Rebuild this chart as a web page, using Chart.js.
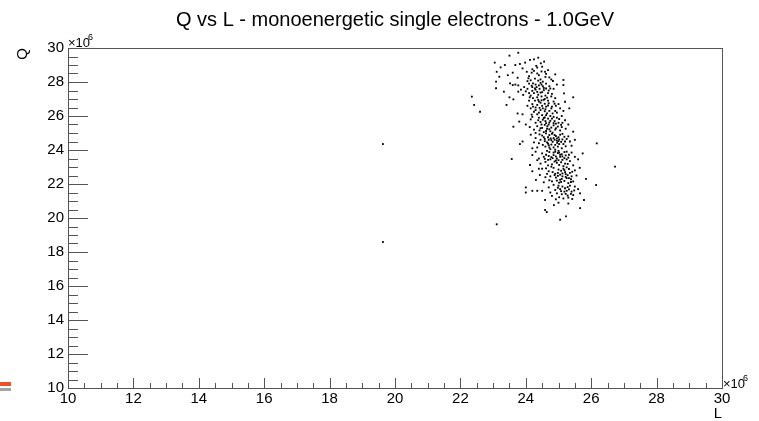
<!DOCTYPE html>
<html>
<head>
<meta charset="utf-8">
<script src="https://cdn.jsdelivr.net/npm/chart.js@4.4.1/dist/chart.umd.min.js"></script>
<style>
  html, body { margin: 0; background: #fff; }
  #wrap { position: relative; width: 759px; height: 421px; }
  .mark { position: absolute; left: 0; width: 11px; }
</style>
</head>
<body>
<div id="wrap">
  <canvas id="graph" width="759" height="421"></canvas>
  <div class="mark" style="top:382px;height:4px;background:#e8532b"></div>
  <div class="mark" style="top:388px;height:3px;background:#a3a3a3"></div>
</div>
<script>
/* Q vs L scatter — valeurs en unités de 10^6 */

const titre = 'Q vs L - monoenergetic single electrons - 1.0GeV';
const xTicks = [10, 12, 14, 16, 18, 20, 22, 24, 26, 28, 30];
const yTicks = [10, 12, 14, 16, 18, 20, 22, 24, 26, 28, 30];
const subDiv = 4;

// points isolés
const isoles = [
    [19.63, 24.35], [19.63, 18.59], [23.11, 19.63], [26.73, 23.02], [26.17, 24.39],
    [22.35, 27.14], [22.42, 26.65], [22.60, 26.25]
];

// Q entre 28 et 30
const hautQ = [
    [23.77, 29.72], [23.50, 29.55], [24.38, 29.43], [24.25, 29.33], [24.56, 29.20], [24.13, 29.30],
    [23.05, 29.14], [23.98, 29.14], [23.36, 29.00], [23.68, 29.00], [23.82, 29.06], [24.46, 29.10],
    [23.23, 28.86], [23.11, 28.60], [23.19, 28.31], [24.03, 28.60], [24.59, 28.60], [24.72, 28.27],
    [24.83, 28.06], [24.78, 28.15], [25.15, 28.12], [24.20, 28.75], [24.35, 28.50], [24.10, 28.35],
    [24.28, 28.20], [24.40, 28.40], [24.50, 28.90], [23.60, 28.55], [23.90, 28.80], [24.15, 28.10],
    [24.45, 28.15], [24.60, 28.30], [24.25, 28.65], [23.45, 28.40], [24.05, 28.05], [24.90, 28.45],
    [24.35, 28.85], [23.75, 28.25], [24.52, 28.02], [24.68, 28.70]
];

// Q entre 26 et 28
const milieuHautQ = [
    [23.09, 28.02], [23.09, 27.63], [23.52, 27.92], [23.60, 27.82], [23.68, 27.85], [23.77, 27.80],
    [23.33, 27.43], [23.50, 27.10], [23.77, 27.43], [23.92, 27.24], [25.15, 27.82], [25.17, 27.33],
    [25.45, 27.10], [24.10, 27.90], [24.20, 27.70], [24.30, 27.55], [24.40, 27.80], [24.50, 27.40],
    [24.55, 27.65], [24.60, 27.20], [24.70, 27.50], [24.80, 27.30], [24.90, 27.05], [24.00, 27.45],
    [24.15, 27.20], [24.25, 27.35], [24.35, 27.10], [24.45, 27.95], [24.62, 27.90], [24.05, 27.60],
    [24.38, 27.25], [24.48, 27.15], [24.72, 27.75], [24.22, 27.05], [24.85, 27.60], [24.95, 27.85],
    [24.58, 27.00], [24.30, 27.85], [24.10, 27.35], [23.95, 27.70], [24.68, 27.35], [24.42, 27.60],
    [24.20, 27.48], [24.78, 27.15], [24.52, 27.75], [23.85, 27.55], [24.33, 27.70], [24.65, 27.08],
    [24.12, 27.10],
    [23.41, 26.65], [23.62, 26.98], [25.20, 26.84], [25.33, 26.45], [23.75, 26.15], [23.90, 26.10],
    [24.10, 26.90], [24.20, 26.70], [24.30, 26.50], [24.40, 26.85], [24.50, 26.60], [24.60, 26.40],
    [24.70, 26.75], [24.80, 26.55], [24.90, 26.30], [25.00, 26.70], [24.25, 26.25], [24.35, 26.10],
    [24.45, 26.35], [24.55, 26.95], [24.65, 26.15], [24.75, 26.00], [24.15, 26.45], [24.05, 26.60],
    [24.85, 26.85], [24.95, 26.20], [25.05, 26.45], [24.40, 26.20], [24.58, 26.72], [24.28, 26.90],
    [24.72, 26.30], [24.50, 26.05], [24.35, 26.65], [24.62, 26.55], [24.45, 26.78], [24.82, 26.15],
    [24.18, 26.08], [25.10, 26.00], [24.68, 26.90], [24.92, 26.60], [24.52, 26.45], [24.30, 26.35],
    [24.78, 26.45], [24.22, 26.55], [25.15, 26.30]
];

// Q entre 24 et 26
const milieuQ = [
    [23.62, 25.37], [23.80, 25.67], [25.45, 25.08], [24.00, 25.50], [24.15, 25.80], [24.30, 25.60],
    [24.40, 25.90], [24.50, 25.30], [24.60, 25.70], [24.70, 25.50], [24.80, 25.85], [24.90, 25.20],
    [25.00, 25.60], [25.10, 25.35], [25.20, 25.75], [24.25, 25.20], [24.35, 25.40], [24.45, 25.65],
    [24.55, 25.05], [24.65, 25.25], [24.75, 25.10], [24.85, 25.45], [24.95, 25.90], [25.05, 25.15],
    [25.30, 25.50], [24.20, 25.95], [24.42, 25.15], [24.58, 25.48], [24.68, 25.85], [24.78, 25.32],
    [24.88, 25.70], [24.98, 25.38], [24.12, 25.35], [25.12, 25.60], [24.52, 25.78], [24.72, 25.62],
    [24.62, 25.12], [24.38, 25.75], [24.82, 25.02], [25.02, 25.82], [24.92, 25.55], [25.22, 25.25],
    [24.48, 25.50], [24.30, 25.00], [24.66, 25.40],
    [23.82, 24.35], [23.90, 24.50], [24.15, 24.90], [24.30, 24.70], [24.40, 24.40], [24.50, 24.85],
    [24.60, 24.20], [24.70, 24.60], [24.80, 24.95], [24.90, 24.30], [25.00, 24.75], [25.10, 24.10],
    [25.20, 24.50], [25.30, 24.80], [25.40, 24.25], [24.35, 24.15], [24.45, 24.60], [24.55, 24.75],
    [24.65, 24.45], [24.75, 24.05], [24.85, 24.70], [24.95, 24.55], [25.05, 24.90], [25.15, 24.35],
    [25.25, 24.65], [24.25, 24.45], [24.85, 24.15], [24.72, 24.88], [24.92, 24.82], [24.58, 24.52],
    [24.78, 24.32], [25.08, 24.48], [24.88, 24.60], [24.98, 24.20], [24.68, 24.75], [24.42, 24.92],
    [25.18, 24.78], [24.62, 24.98], [24.82, 24.48], [25.02, 24.62], [24.52, 24.30], [24.96, 24.42],
    [24.76, 24.68], [25.35, 24.50], [25.50, 24.60], [24.20, 24.10], [25.12, 24.95], [24.90, 24.02],
    [25.00, 24.52], [24.70, 24.28]
];

// Q entre 22 et 24
const milieuBasQ = [
    [23.57, 23.47], [24.13, 23.12], [25.74, 23.80], [25.50, 23.60], [24.30, 23.90], [24.40, 23.50],
    [24.50, 23.80], [24.60, 23.30], [24.70, 23.65], [24.80, 23.15], [24.90, 23.90], [25.00, 23.40],
    [25.10, 23.75], [25.20, 23.20], [25.30, 23.55], [25.40, 23.85], [24.45, 23.20], [24.55, 23.60],
    [24.65, 23.95], [24.75, 23.45], [24.85, 23.70], [24.95, 23.25], [25.05, 23.60], [25.15, 23.05],
    [25.25, 23.90], [25.35, 23.35], [24.35, 23.40], [24.72, 23.88], [24.82, 23.52], [24.92, 23.62],
    [25.02, 23.12], [25.12, 23.42], [25.22, 23.68], [24.62, 23.72], [24.88, 23.32], [24.98, 23.82],
    [25.08, 23.28], [25.18, 23.52], [24.78, 23.02], [25.28, 23.18], [24.58, 23.48], [25.45, 23.10],
    [25.60, 23.45], [24.20, 23.70], [24.95, 23.50], [25.00, 23.95], [24.68, 23.10], [25.32, 23.72],
    [24.43, 22.53], [24.31, 22.24], [24.50, 22.90], [24.60, 22.40], [24.70, 22.75], [24.80, 22.15],
    [24.90, 22.60], [25.00, 22.85], [25.10, 22.30], [25.20, 22.70], [25.30, 22.05], [25.40, 22.45],
    [25.50, 22.80], [25.84, 22.30], [24.75, 22.45], [24.85, 22.95], [24.95, 22.20], [25.05, 22.55],
    [25.15, 22.90], [25.25, 22.35], [25.35, 22.65], [25.45, 22.15], [24.65, 22.60], [24.55, 22.10],
    [25.02, 22.08], [25.12, 22.62], [25.22, 22.42], [25.32, 22.88], [24.92, 22.38], [25.08, 22.78],
    [25.18, 22.18], [25.28, 22.52], [24.82, 22.70], [25.38, 22.28], [24.72, 22.22], [24.98, 22.48],
    [25.42, 22.72], [24.62, 22.92], [25.55, 22.50], [24.40, 22.90], [25.65, 22.95], [24.20, 22.75],
    [25.25, 22.98], [25.05, 22.25]
];

// Q sous 22
const basQ = [
    [26.15, 21.94], [24.00, 21.80], [24.00, 21.50], [24.20, 21.60], [24.35, 21.60], [24.50, 21.60],
    [25.66, 21.45], [24.70, 21.80], [24.80, 21.30], [24.90, 21.65], [25.00, 21.90], [25.10, 21.40],
    [25.20, 21.75], [25.30, 21.20], [25.40, 21.55], [25.50, 21.85], [24.85, 21.95], [24.95, 21.45],
    [25.05, 21.70], [25.15, 21.15], [25.25, 21.60], [25.35, 21.90], [25.45, 21.35], [25.60, 21.70],
    [24.75, 21.50], [25.78, 21.06], [24.59, 21.06], [25.02, 21.22], [25.22, 21.42], [25.12, 21.85],
    [25.32, 21.68], [24.92, 21.10], [25.42, 21.12],
    [24.59, 20.47], [24.64, 20.35], [24.86, 20.76], [25.05, 19.90], [25.23, 20.10], [25.66, 20.58],
    [25.00, 20.90], [25.30, 20.85]
];

// coeur dense du nuage
const coeur = [
    [24.32, 28.95], [24.18, 28.55], [24.48, 28.62], [24.08, 28.22], [24.62, 28.48], [24.38, 28.08],
    [24.22, 27.92], [24.55, 27.52], [24.28, 27.62], [24.45, 27.38], [24.62, 27.62], [24.35, 27.42],
    [24.75, 27.62], [24.18, 27.78], [24.48, 27.85],
    [24.42, 26.48], [24.58, 26.28], [24.68, 26.62], [24.38, 26.95], [24.88, 26.72], [24.48, 26.92],
    [24.62, 26.05], [24.55, 25.88], [24.75, 25.72], [24.85, 25.58], [24.45, 25.28], [24.62, 25.58],
    [24.92, 25.28], [24.72, 25.22], [24.58, 25.92], [25.08, 25.48], [24.85, 25.95],
    [24.88, 24.88], [24.78, 24.58], [25.02, 24.35], [24.68, 24.38], [25.12, 24.62], [24.58, 24.65],
    [24.95, 24.68], [24.72, 24.15], [25.22, 24.22], [24.85, 23.85], [25.05, 23.72], [24.78, 23.58],
    [25.12, 23.62], [24.92, 23.38], [25.25, 23.45], [25.02, 23.85], [24.68, 23.42], [25.18, 23.88],
    [25.12, 22.45], [25.22, 22.58], [24.98, 22.65], [25.32, 22.35], [25.08, 22.12], [25.18, 22.82],
    [25.38, 22.12], [24.88, 22.52], [25.28, 21.82], [25.18, 21.55], [25.38, 21.42], [25.08, 21.58],
    [24.98, 21.78], [25.48, 21.62], [25.28, 21.32]
];

const nuage = [].concat(isoles, hautQ, milieuHautQ, milieuQ, milieuBasQ, basQ, coeur)
    .map(p => ({ x: p[0], y: p[1] }));

const POLICE = '"Liberation Sans", Arial, Helvetica, sans-serif';
const GRIS = '#555';

// cadre, graduations internes et textes façon ROOT
const cadreRoot = {
    id: 'cadreRoot',
    afterDraw(chart) {
        const c = chart.ctx, a = chart.chartArea;
        const sx = chart.scales.x, sy = chart.scales.y;
        c.save();
        c.strokeStyle = GRIS;
        c.lineWidth = 1;
        c.strokeRect(Math.round(a.left) + 0.5, Math.round(a.top) + 0.5,
                     Math.round(a.right - a.left), Math.round(a.bottom - a.top));

        c.beginPath();
        const pasX = (xTicks[1] - xTicks[0]) / subDiv;
        for (let v = xTicks[0]; v <= xTicks[xTicks.length - 1] + 1e-9; v += pasX) {
            const px = Math.round(sx.getPixelForValue(v)) + 0.5;
            const majeur = Math.abs(v - Math.round(v / 2) * 2) < 1e-6;
            const l = majeur ? 10 : 5;
            c.moveTo(px, a.bottom);
            c.lineTo(px, a.bottom - l);
        }
        const pasY = (yTicks[1] - yTicks[0]) / subDiv;
        for (let v = yTicks[0]; v <= yTicks[yTicks.length - 1] + 1e-9; v += pasY) {
            const py = Math.round(sy.getPixelForValue(v)) + 0.5;
            const majeur = Math.abs(v - Math.round(v / 2) * 2) < 1e-6;
            const l = majeur ? 20 : 10;
            c.moveTo(a.left, py);
            c.lineTo(a.left + l, py);
        }
        c.stroke();

        c.fillStyle = '#000';
        c.font = '15px ' + POLICE;
        c.textAlign = 'center';
        c.textBaseline = 'middle';
        xTicks.forEach(v => c.fillText(String(v), sx.getPixelForValue(v), a.bottom + 11));
        c.textAlign = 'right';
        yTicks.forEach(v => c.fillText(String(v), a.left - 4, sy.getPixelForValue(v)));

        // facteurs ×10^6
        c.textAlign = 'left';
        c.textBaseline = 'alphabetic';
        c.font = '13px ' + POLICE;
        c.fillText('\u00d710', a.left, a.top - 1);
        c.fillText('\u00d710', a.right + 1, a.bottom);
        c.font = '9px ' + POLICE;
        c.fillText('6', a.left + 20, a.top - 8);
        c.fillText('6', a.right + 21, a.bottom - 7);

        // titres d'axes
        c.font = '15px ' + POLICE;
        c.textAlign = 'right';
        c.fillText('L', a.right, a.bottom + 30);
        c.save();
        c.translate(27, a.top);
        c.rotate(-Math.PI / 2);
        c.textAlign = 'right';
        c.fillText('Q', 0, 0);
        c.restore();

        // titre
        c.font = '20px ' + POLICE;
        c.textAlign = 'center';
        c.fillText(titre, (a.left + a.right) / 2, 26);
        c.restore();
    }
};

const graphique = new Chart(document.getElementById('graph').getContext('2d'), {
    type: 'scatter',
    data: {
        datasets: [{
            label: 'Q vs L',
            data: nuage,
            pointStyle: 'rect',
            pointRadius: 1.3,
            pointBorderWidth: 0,
            backgroundColor: '#000',
            borderColor: '#000'
        }]
    },
    options: {
        responsive: false,
        animation: false,
        devicePixelRatio: 1,
        layout: { padding: { left: 68, right: 37, top: 48, bottom: 33 } },
        plugins: { legend: { display: false }, tooltip: { enabled: false } },
        scales: {
            x: { type: 'linear', min: xTicks[0], max: xTicks[xTicks.length - 1], display: false },
            y: { type: 'linear', min: yTicks[0], max: yTicks[yTicks.length - 1], display: false }
        }
    },
    plugins: [cadreRoot]
});
</script>
</body>
</html>
